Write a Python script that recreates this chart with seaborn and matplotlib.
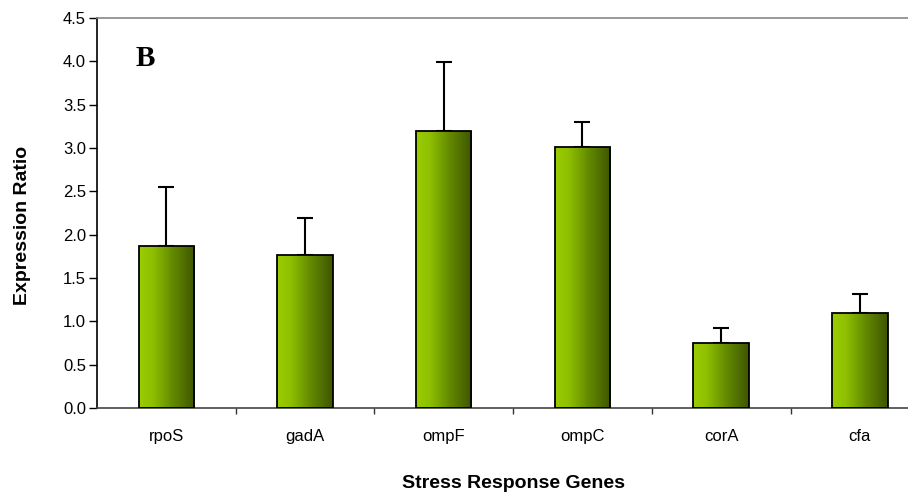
import numpy as np
import pandas as pd
import matplotlib
matplotlib.use("Agg")
import matplotlib.pyplot as plt
import seaborn as sns
from matplotlib.colors import LinearSegmentedColormap

genes = ["rpoS", "gadA", "ompF", "ompC", "corA", "cfa"]
ratios = [1.87, 1.77, 3.20, 3.01, 0.75, 1.10]
errors = [0.68, 0.42, 0.79, 0.29, 0.17, 0.21]
yticks = [0.0, 0.5, 1.0, 1.5, 2.0, 2.5, 3.0, 3.5, 4.0, 4.5]

sns.set_theme(style="white")
plt.rcParams['font.family'] = ['Liberation Sans', 'DejaVu Sans']
plt.rcParams['text.color'] = 'black'
plt.rcParams['xtick.color'] = 'black'
plt.rcParams['ytick.color'] = 'black'

fig = plt.figure(figsize=(9.08, 4.95), dpi=100)
ax = fig.add_axes([97/908, 1-408/495, (6*138.7)/908, (408-18)/495])

df = pd.DataFrame({"gene": genes, "ratio": ratios})
sns.barplot(data=df, x="gene", y="ratio", width=0.4, color="#88b800",
            edgecolor="black", linewidth=1.3, ax=ax, zorder=2)

cmap = LinearSegmentedColormap.from_list(
    "g", [(0, "#9acd00"), (0.25, "#8fbf00"), (0.6, "#638a00"), (1.0, "#3e5500")])
grad = np.linspace(0, 1, 256).reshape(1, -1)
for p in list(ax.patches):
    x0, y0 = p.get_x(), p.get_y()
    w, h = p.get_width(), p.get_height()
    im = ax.imshow(grad, cmap=cmap, aspect="auto",
                   extent=[x0, x0 + w, y0, y0 + h], zorder=2.5)
    im.set_clip_path(p)
    p.set_facecolor("none")
    p.set_zorder(3)

xs = np.arange(len(genes))
ax.errorbar(xs, ratios, yerr=[np.zeros(len(errors)), errors], fmt="none",
            ecolor="black", elinewidth=1.5, capsize=5.6, capthick=1.5, zorder=1)

ax.set_xlim(-0.5, 5.5)
ax.set_ylim(0, 4.5)
ax.set_yticks(yticks)
ax.set_yticklabels([f"{v:.1f}" for v in yticks], fontsize=12)
ax.set_xticks(xs)
ax.set_xticklabels(genes, fontsize=12)
ax.set_xticks(np.arange(0.5, 5.5, 1), minor=True)
ax.tick_params(axis="x", which="major", length=0, pad=15)
ax.tick_params(axis="x", which="minor", length=4, width=1, color="#333333", direction="out", bottom=True)
ax.tick_params(axis="y", which="major", length=6, width=1, color="black", direction="out", left=True, pad=2)

for s in ["left", "bottom"]:
    ax.spines[s].set_color("black")
    ax.spines[s].set_linewidth(1.2)
ax.spines["bottom"].set_color("#444444")
ax.spines["top"].set_color("#888888")
ax.spines["top"].set_linewidth(1.2)
ax.spines["right"].set_visible(False)

ax.set_xlabel("")
ax.set_ylabel("")
fig.text(23/908, 1-225/495, "Expression Ratio", rotation=90, fontsize=14,
         fontweight="bold", ha="center", va="center")
fig.text(513/908, 1-483/495, "Stress Response Genes", fontsize=14,
         fontweight="bold", ha="center", va="center")
fig.text(145/908, 1-59/495, "B", fontsize=21, fontweight="bold",
         family=["Liberation Serif", "DejaVu Serif"], ha="center", va="center")

fig.savefig("out.png", dpi=100)
